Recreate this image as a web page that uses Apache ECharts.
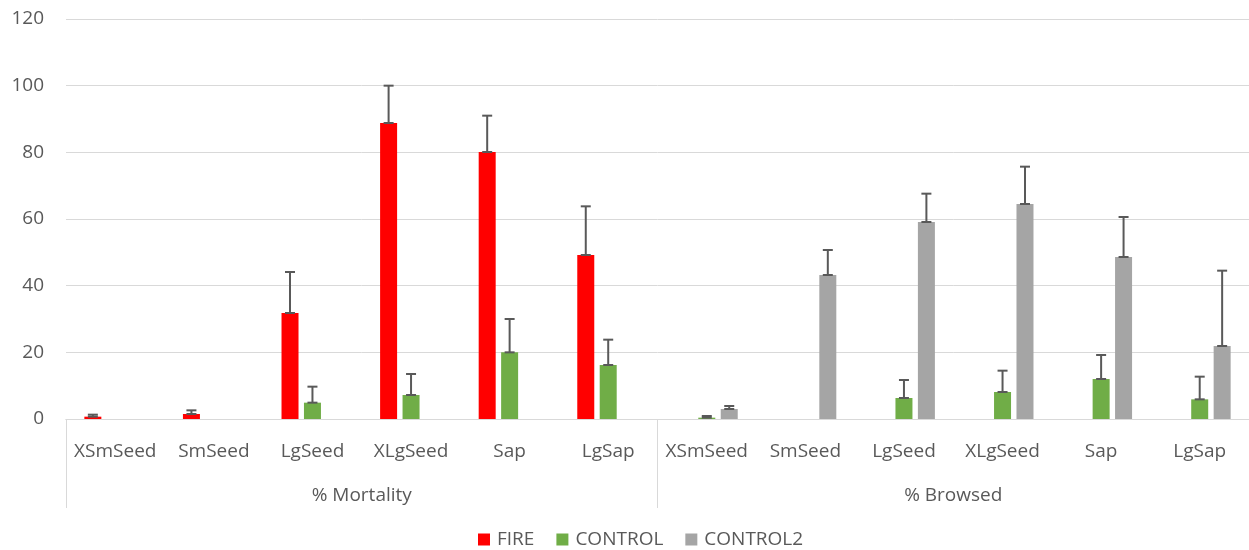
<!DOCTYPE html>
<html>
<head>
<meta charset="utf-8">
<script src="https://cdn.jsdelivr.net/npm/echarts@6/dist/echarts.min.js"></script>
<style>
  html, body { margin: 0; padding: 0; background: #fff; }
  #main { width: 1249px; height: 550px; }
</style>
</head>
<body>
<div id="main"></div>
<script>
// categories and groups
const categories = ['XSmSeed', 'SmSeed', 'LgSeed', 'XLgSeed', 'Sap', 'LgSap',
                    'XSmSeed', 'SmSeed', 'LgSeed', 'XLgSeed', 'Sap', 'LgSap'];
const groups = ['% Mortality', '% Browsed'];
const yTicks = { min: 0, max: 120, interval: 20 };

// series values (null = no bar)
const fireValues     = [0.7, 1.5, 31.8, 88.8, 80.1, 49.2, null, null, null, null, null, null];
const fireErrors     = [0.6, 1.1, 12.3, 11.2, 10.9, 14.6, null, null, null, null, null, null];
const controlValues  = [null, null, 4.9, 7.2, 20.0, 16.2, 0.4, null, 6.3, 8.1, 12.0, 5.9];
const controlErrors  = [null, null, 4.8, 6.3, 10.0, 7.6, 0.5, null, 5.4, 6.4, 7.2, 6.8];
const control2Values = [null, null, null, null, null, null, 3.0, 43.2, 59.1, 64.5, 48.6, 21.9];
const control2Errors = [null, null, null, null, null, null, 0.9, 7.5, 8.5, 11.2, 12.0, 22.6];

const FONT = 'Open Sans';
const TEXT = '#595959';
const LINE = '#d9d9d9';
const BAR_W = 17;
const BAR_GAP = 0.32;
const STEP = BAR_W * (1 + BAR_GAP);

function barSeries(name, values, color) {
  return {
    name: name,
    type: 'bar',
    barWidth: BAR_W,
    barGap: (BAR_GAP * 100) + '%',
    itemStyle: { color: color },
    data: values
  };
}

function errorSeries(name, values, errors, slot) {
  const data = [];
  values.forEach(function (v, i) {
    if (v != null && errors[i] != null) data.push([i, v, errors[i]]);
  });
  return {
    name: name + ' error',
    type: 'custom',
    silent: true,
    z: 5,
    encode: { x: 0, y: 1 },
    data: data,
    renderItem: function (params, api) {
      const base = api.coord([api.value(0), api.value(1)]);
      const top = api.coord([api.value(0), api.value(1) + api.value(2)]);
      const x = base[0] + slot * STEP;
      const st = { stroke: '#595959', lineWidth: 2 };
      return {
        type: 'group',
        children: [
          { type: 'line', shape: { x1: x, y1: base[1], x2: x, y2: top[1] }, style: st },
          { type: 'line', shape: { x1: x - 5, y1: top[1], x2: x + 5, y2: top[1] }, style: st },
          { type: 'line', shape: { x1: x - 5, y1: base[1], x2: x + 5, y2: base[1] }, style: st }
        ]
      };
    }
  };
}

const myChart = echarts.init(document.getElementById('main'));
myChart.setOption({
  animation: false,
  textStyle: { fontFamily: FONT },
  grid: { left: 66, right: 0, top: 19, bottom: 131 },
  legend: {
    data: ['FIRE', 'CONTROL', 'CONTROL2'],
    left: 473,
    top: 525,
    itemWidth: 12,
    itemHeight: 12,
    itemGap: 22,
    icon: 'rect',
    textStyle: { fontFamily: FONT, fontSize: 19, color: TEXT, padding: [0, 0, 0, 2] }
  },
  xAxis: [
    {
      type: 'category',
      data: categories,
      axisLine: { lineStyle: { color: LINE, width: 1 } },
      axisTick: { show: false },
      axisLabel: { interval: 0, color: TEXT, fontSize: 19, fontFamily: FONT, margin: 23 }
    },
    {
      type: 'category',
      data: groups,
      position: 'bottom',
      axisLine: { lineStyle: { color: LINE, width: 1 } },
      axisTick: { show: true, interval: 0, length: 89, lineStyle: { color: LINE, width: 1 } },
      axisLabel: { interval: 0, color: TEXT, fontSize: 19, fontFamily: FONT, margin: 67 }
    }
  ],
  yAxis: {
    type: 'value',
    min: yTicks.min,
    max: yTicks.max,
    interval: yTicks.interval,
    axisLine: { show: false },
    axisTick: { show: false },
    splitLine: { lineStyle: { color: LINE, width: 1 } },
    axisLabel: { color: TEXT, fontSize: 19, fontFamily: FONT, margin: 22 }
  },
  series: [
    barSeries('FIRE', fireValues, '#FF0000'),
    barSeries('CONTROL', controlValues, '#70AD47'),
    barSeries('CONTROL2', control2Values, '#A5A5A5'),
    errorSeries('FIRE', fireValues, fireErrors, -1),
    errorSeries('CONTROL', controlValues, controlErrors, 0),
    errorSeries('CONTROL2', control2Values, control2Errors, 1)
  ]
});
</script>
</body>
</html>
